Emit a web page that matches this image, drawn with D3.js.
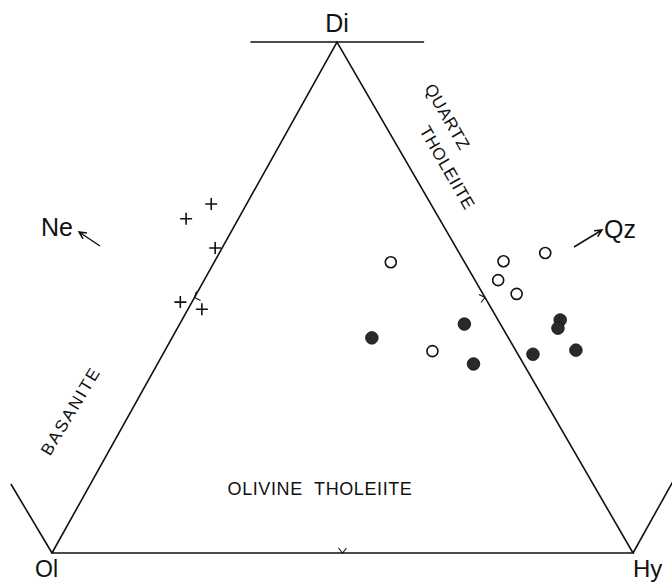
<!DOCTYPE html>
<html>
<head>
<meta charset="utf-8">
<script src="https://cdn.jsdelivr.net/npm/d3@7/dist/d3.min.js"></script>
<style>
  body { margin: 0; background: #fff; }
  svg text { font-family: "Liberation Sans", Arial, sans-serif; fill: #111; }
</style>
</head>
<body>
<div id="chart"></div>
<script>
// ternary coordinates: di + hy + ol = 1 (negative hy = Ne-normative, negative ol = Qz-normative)
const basanite = [
  { di: 0.654, hy: -0.090 },
  { di: 0.683, hy: -0.061 },
  { di: 0.597, hy: -0.012 },
  { di: 0.491, hy: -0.020 },
  { di: 0.477, hy: 0.024 }
];
const openPts = [
  { di: 0.569, hy: 0.304 },
  { di: 0.571, hy: 0.497 },
  { di: 0.587, hy: 0.561 },
  { di: 0.534, hy: 0.506 },
  { di: 0.507, hy: 0.551 },
  { di: 0.395, hy: 0.461 }
];
const filledPts = [
  { di: 0.421, hy: 0.344 },
  { di: 0.448, hy: 0.490 },
  { di: 0.370, hy: 0.544 },
  { di: 0.389, hy: 0.637 },
  { di: 0.456, hy: 0.651 },
  { di: 0.440, hy: 0.655 },
  { di: 0.397, hy: 0.707 }
];
const apexLabels = ["Di", "Ol", "Hy"];
const fieldLabels = ["QUARTZ", "THOLEIITE", "BASANITE", "OLIVINE THOLEIITE"];

const width = 672, height = 584;
const svg = d3.select("#chart").append("svg")
  .attr("width", width).attr("height", height);

// u = horizontal ternary position, di = vertical
const x = d3.scaleLinear().domain([0, 1]).range([52, 633]);
const y = d3.scaleLinear().domain([0, 1]).range([553, 42]);
const apexU = x.invert(337);
const px = d => x(d.hy + d.di * apexU);
const py = d => y(d.di);
const P = (di, hy) => [px({ di, hy }), py({ di, hy })];

const ink = "#111";
const line = d3.line();

// triangle
svg.append("path")
  .attr("d", line([P(0, 0), P(1, 0), P(0, 1)]) + "Z")
  .attr("fill", "none").attr("stroke", ink).attr("stroke-width", 1.6)
  .attr("stroke-linejoin", "miter");

// top bar and wings
[
  [P(1, -0.149), P(1, 0.15)],
  [P(0, 0), P(0.135, -0.137)],
  [P(0, 1), P(0.17, 1.0)]
].forEach(seg => {
  svg.append("path").attr("d", line(seg))
    .attr("fill", "none").attr("stroke", ink).attr("stroke-width", 1.6);
});

// small ticks at the edge midpoints
const ticks = [
  { at: P(0, 0.5), pts: [[-4, -5], [0, 0], [4, -5]] },
  { at: P(0.5, 0.5), pts: [[-6, -3], [0, 0], [-4, 5]] },
  { at: P(0.5, 0), pts: [[2, -6], [0, 0], [6, 3]] }
];
ticks.forEach(t => {
  svg.append("path")
    .attr("d", line(t.pts.map(p => [t.at[0] + p[0], t.at[1] + p[1]])))
    .attr("fill", "none").attr("stroke", ink).attr("stroke-width", 1.1);
});

// apex labels
svg.append("text").attr("x", 337).attr("y", 32).attr("text-anchor", "middle")
  .attr("font-size", 25).text(apexLabels[0]);
svg.append("text").attr("x", 35).attr("y", 577)
  .attr("font-size", 23).text(apexLabels[1]);
svg.append("text").attr("x", 633).attr("y", 577)
  .attr("font-size", 24).text(apexLabels[2]);

// Ne and Qz with arrows
function arrow(x1, y1, x2, y2) {
  const a = Math.atan2(y2 - y1, x2 - x1), L = 8, s = 0.45;
  svg.append("path")
    .attr("d", line([[x1, y1], [x2, y2]]) +
      line([[x2 - L * Math.cos(a - s), y2 - L * Math.sin(a - s)], [x2, y2],
            [x2 - L * Math.cos(a + s), y2 - L * Math.sin(a + s)]]))
    .attr("fill", "none").attr("stroke", ink).attr("stroke-width", 1.5);
}
svg.append("text").attr("x", 41).attr("y", 236).attr("font-size", 25).text("Ne");
arrow(100, 246, 79, 232);
svg.append("text").attr("x", 604).attr("y", 238).attr("font-size", 25).text("Qz");
arrow(574, 247, 602, 230);

// field labels
function rotLabel(txt, cx, cy, ang, size, spacing) {
  svg.append("text")
    .attr("transform", `translate(${cx},${cy}) rotate(${ang})`)
    .attr("text-anchor", "middle").attr("dominant-baseline", "central")
    .attr("font-size", size).attr("letter-spacing", spacing)
    .text(txt);
}
rotLabel(fieldLabels[0], 447, 117, 60, 17, 0.6);
rotLabel(fieldLabels[1], 447, 168, 60, 17, 0.6);
rotLabel(fieldLabels[2], 71, 411, -59, 17, 2);
svg.append("text").attr("x", 320).attr("y", 495).attr("text-anchor", "middle")
  .attr("font-size", 18).attr("word-spacing", 6).attr("letter-spacing", 0.6)
  .text(fieldLabels[3]);

// data points
svg.append("g").selectAll("path").data(basanite).join("path")
  .attr("d", d => line([[px(d) - 6, py(d)], [px(d) + 6, py(d)]]) +
                  line([[px(d), py(d) - 6], [px(d), py(d) + 6]]))
  .attr("stroke", ink).attr("stroke-width", 1.6).attr("fill", "none");

svg.append("g").selectAll("circle").data(openPts).join("circle")
  .attr("cx", px).attr("cy", py).attr("r", 5.5)
  .attr("fill", "#fff").attr("stroke", ink).attr("stroke-width", 1.6);

svg.append("g").selectAll("circle").data(filledPts).join("circle")
  .attr("cx", px).attr("cy", py).attr("r", 6.3)
  .attr("fill", "#2a2a2a").attr("stroke", "#111").attr("stroke-width", 0.8);
</script>
</body>
</html>
